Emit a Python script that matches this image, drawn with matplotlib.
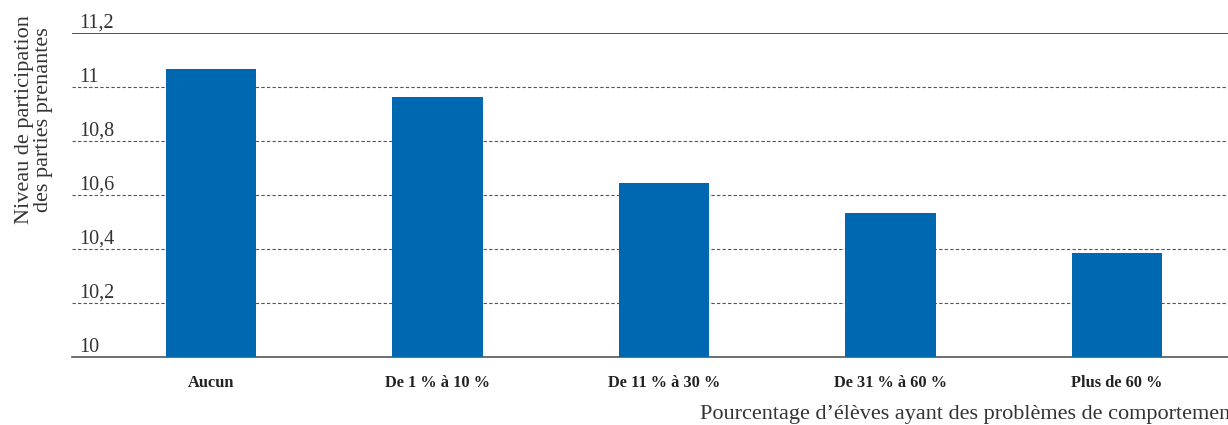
import matplotlib
matplotlib.use("Agg")
import matplotlib.pyplot as plt
import matplotlib.transforms as mtransforms

# data
categories = ["Aucun", "De 1 % à 10 %", "De 11 % à 30 %", "De 31 % à 60 %", "Plus de 60 %"]
values = [11.067, 10.963, 10.644, 10.533, 10.385]
yticks = [10, 10.2, 10.4, 10.6, 10.8, 11, 11.2]
ytick_labels = ["10", "10,2", "10,4", "10,6", "10,8", "11", "11,2"]

plt.rcParams['font.family'] = ['Liberation Serif', 'DejaVu Serif']

fig = plt.figure(figsize=(12.28, 4.25), dpi=100)
ax = fig.add_axes([72 / 1228, 1 - 357 / 425, (1228 - 72) / 1228, (357 - 33) / 425])

blue = "#0067b1"
x = range(len(categories))
ax.bar(x, values, width=0.4, color=blue, zorder=3)

ax.set_ylim(10, 11.2)
ax.set_xlim(-0.614, 4.49)

ax.set_yticks(yticks)
ax.set_yticklabels(ytick_labels, fontsize=14.5, color="#333333")
lift = mtransforms.ScaledTranslation(0, 4 / 72, fig.dpi_scale_trans)
for lab in ax.get_yticklabels():
    lab.set_ha("left")
    lab.set_va("bottom")
    lab.set_transform(lab.get_transform() + lift)
ax.tick_params(axis="y", length=0, pad=-5)

ax.set_xticks(list(x))
ax.set_xticklabels(categories, fontsize=11.8, fontweight="bold", color="#222222")
ax.tick_params(axis="x", length=0, pad=13)

# dashed gridlines, solid top line
for v in yticks[1:-1]:
    ax.axhline(v, color="#555555", lw=0.8, ls=(0, (3, 2)), zorder=1)
ax.axhline(11.2, color="#333333", lw=1.2, zorder=1)

for s in ["top", "right", "left"]:
    ax.spines[s].set_visible(False)
ax.spines["bottom"].set_color("#555555")
ax.spines["bottom"].set_linewidth(1.2)

fig.text(0.028, 1 - 120 / 425, "Niveau de participation\ndes parties prenantes",
         rotation=90, ha="center", va="center", fontsize=16, color="#333333",
         linespacing=1.0)

# x label is cut off at the right edge in the reference
fig.text(1.007, 1 - 414 / 425, "Pourcentage d’élèves ayant des problèmes de comportement",
         ha="right", va="center", fontsize=16, color="#333333")

fig.savefig("out.png", dpi=100)
